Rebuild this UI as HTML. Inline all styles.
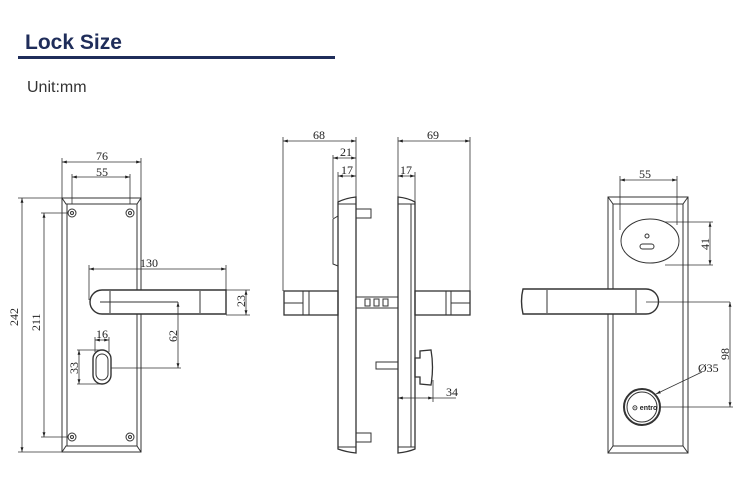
<!DOCTYPE html><html><head><style>body{margin:0;background:#fff}svg{display:block}</style></head><body>
<svg width="750" height="487" viewBox="0 0 750 487" xmlns="http://www.w3.org/2000/svg" font-family="Liberation Serif, serif">
<defs><marker id="a" viewBox="0 0 10 10" refX="10" refY="5" markerWidth="6" markerHeight="6" orient="auto-start-reverse"><path d="M0,2L10,5L0,8" fill="#222"/></marker></defs>
<text x="25" y="49" font-family="Liberation Sans, sans-serif" font-weight="bold" font-size="21" fill="#1f2d5a">Lock Size</text>
<rect x="18" y="56" width="317" height="3" fill="#1f2d5a"/>
<text x="27" y="92" font-family="Liberation Sans, sans-serif" font-size="16" fill="#333">Unit:mm</text>
<g stroke="#333" fill="none" stroke-width="1">
<rect x="62" y="198" width="79" height="254"/><line x1="67" y1="204" x2="67" y2="446"/><line x1="137" y1="204" x2="137" y2="446"/>
<path d="M62,198 L66,204 L137,204 L141,198 M62,452 L66,446 L137,446 L141,452"/>
<circle cx="72" cy="213" r="4"/><circle cx="130" cy="213" r="4"/><circle cx="72" cy="437" r="4"/><circle cx="130" cy="437" r="4"/>
<circle cx="72" cy="213" r="1.5"/><circle cx="130" cy="213" r="1.5"/><circle cx="72" cy="437" r="1.5"/><circle cx="130" cy="437" r="1.5"/>
<path d="M102,290 L226,290 L226,314 L102,314 A12,12 0 0 1 102,290 Z" fill="#fff" stroke-width="1.4"/>
<line x1="110" y1="291" x2="110" y2="313"/><line x1="200" y1="291" x2="200" y2="313"/><line x1="100" y1="302" x2="178" y2="302"/>
<rect x="93" y="350" width="18" height="34" rx="9" stroke-width="1.4"/><rect x="96" y="354" width="12" height="26" rx="6"/>
<g stroke-width="0.8">
<line x1="62" y1="198" x2="62" y2="158"/><line x1="141" y1="198" x2="141" y2="158"/><line x1="62" y1="162" x2="141" y2="162" marker-start="url(#a)" marker-end="url(#a)"/>
<line x1="72" y1="204" x2="72" y2="174"/><line x1="130" y1="204" x2="130" y2="174"/><line x1="72" y1="177" x2="130" y2="177" marker-start="url(#a)" marker-end="url(#a)"/>
<line x1="18" y1="198" x2="62" y2="198"/><line x1="18" y1="452" x2="62" y2="452"/><line x1="22" y1="198" x2="22" y2="452" marker-start="url(#a)" marker-end="url(#a)"/>
<line x1="41" y1="213" x2="68" y2="213"/><line x1="41" y1="437" x2="68" y2="437"/><line x1="44" y1="213" x2="44" y2="437" marker-start="url(#a)" marker-end="url(#a)"/>
<line x1="89" y1="265" x2="89" y2="300"/><line x1="226" y1="265" x2="226" y2="290"/><line x1="89" y1="269" x2="226" y2="269" marker-start="url(#a)" marker-end="url(#a)"/>
<line x1="226" y1="290" x2="250" y2="290"/><line x1="226" y1="315" x2="250" y2="315"/><line x1="246" y1="290" x2="246" y2="315" marker-start="url(#a)" marker-end="url(#a)"/>
<line x1="178" y1="302" x2="178" y2="368" marker-start="url(#a)" marker-end="url(#a)"/><line x1="111" y1="368" x2="181" y2="368"/>
<line x1="95" y1="337" x2="95" y2="352"/><line x1="109" y1="337" x2="109" y2="352"/><line x1="95" y1="340" x2="109" y2="340" marker-start="url(#a)" marker-end="url(#a)"/>
<line x1="77" y1="350" x2="100" y2="350"/><line x1="77" y1="384" x2="100" y2="384"/><line x1="79" y1="350" x2="79" y2="384" marker-start="url(#a)" marker-end="url(#a)"/>
</g>
<path d="M338,202 Q346,198 356,197 L356,453 Q346,452 338,449 Z" stroke-width="1.3"/><line x1="338" y1="204" x2="356" y2="204"/><line x1="338" y1="447" x2="356" y2="447"/>
<path d="M398,197 Q408,198 415,202 L415,449 Q408,452 398,453 Z" stroke-width="1.3"/><line x1="411" y1="204" x2="411" y2="447"/><line x1="398" y1="204" x2="415" y2="204"/><line x1="398" y1="447" x2="415" y2="447"/>
<path d="M333,219 L338,216 L338,266 L333,264 Z"/>
<rect x="356" y="209" width="15" height="9"/><rect x="356" y="433" width="15" height="9"/>
<rect x="284" y="291" width="54" height="24" stroke-width="1.3"/><line x1="303" y1="291" x2="303" y2="315"/><line x1="309" y1="291" x2="309" y2="315"/><line x1="284" y1="303" x2="303" y2="303"/>
<rect x="415" y="291" width="55" height="24" stroke-width="1.3"/><line x1="446" y1="291" x2="446" y2="315"/><line x1="451" y1="291" x2="451" y2="315"/><line x1="451" y1="303" x2="470" y2="303"/>
<rect x="356" y="297" width="42" height="11"/><rect x="365" y="299" width="5" height="7"/><rect x="374" y="299" width="5" height="7"/><rect x="383" y="299" width="5" height="7"/>
<rect x="376" y="362" width="22" height="7"/>
<path d="M415,358 L420,358 L420,351 L431,350 Q434,367 431,385 L420,384 L420,377 L415,377 Z" stroke-width="1.3"/>
<g stroke-width="0.8">
<line x1="283" y1="137" x2="283" y2="291"/><line x1="356" y1="137" x2="356" y2="198"/><line x1="283" y1="141" x2="356" y2="141" marker-start="url(#a)" marker-end="url(#a)"/>
<line x1="333" y1="155" x2="333" y2="218"/><line x1="333" y1="158" x2="356" y2="158" marker-start="url(#a)" marker-end="url(#a)"/>
<line x1="338" y1="172" x2="338" y2="203"/><line x1="338" y1="176" x2="356" y2="176" marker-start="url(#a)" marker-end="url(#a)"/>
<line x1="398" y1="137" x2="398" y2="198"/><line x1="470" y1="137" x2="470" y2="291"/><line x1="398" y1="141" x2="470" y2="141" marker-start="url(#a)" marker-end="url(#a)"/>
<line x1="415" y1="172" x2="415" y2="203"/><line x1="398" y1="176" x2="415" y2="176" marker-start="url(#a)" marker-end="url(#a)"/>
<line x1="433" y1="380" x2="433" y2="402"/><line x1="398" y1="398" x2="433" y2="398" marker-start="url(#a)" marker-end="url(#a)"/><line x1="433" y1="398" x2="456" y2="398"/>
</g>
<rect x="608" y="197" width="80" height="256"/><line x1="613" y1="204" x2="613" y2="446"/><line x1="683" y1="204" x2="683" y2="446"/>
<path d="M608,197 L613,204 L683,204 L688,197 M608,453 L613,446 L683,446 L688,453"/>
<ellipse cx="650" cy="241" rx="29" ry="22"/><circle cx="647" cy="236" r="2"/><rect x="640" y="244" width="14" height="5" rx="2.5"/>
<path d="M523,289 L646,289 A12,12 0 0 1 646,314 L523,314 Q520,301 523,289 Z" fill="#fff" stroke-width="1.4"/>
<line x1="547" y1="290" x2="547" y2="313"/><line x1="636" y1="290" x2="636" y2="313"/><line x1="646" y1="302" x2="730" y2="302" stroke-width="0.8"/>
<circle cx="642" cy="407" r="18" stroke-width="2"/><circle cx="642" cy="407" r="15"/>
<text x="632" y="410" font-size="7" font-family="Liberation Sans, sans-serif" stroke="none" fill="#222" font-weight="bold">⊙ entro</text>
<g stroke-width="0.8">
<line x1="620" y1="176" x2="620" y2="230"/><line x1="677" y1="176" x2="677" y2="225"/><line x1="620" y1="180" x2="677" y2="180" marker-start="url(#a)" marker-end="url(#a)"/>
<line x1="665" y1="222" x2="713" y2="222"/><line x1="665" y1="265" x2="713" y2="265"/><line x1="710" y1="222" x2="710" y2="265" marker-start="url(#a)" marker-end="url(#a)"/>
<line x1="660" y1="407" x2="733" y2="407"/><line x1="730" y1="302" x2="730" y2="407" marker-start="url(#a)" marker-end="url(#a)"/>
<line x1="702" y1="372" x2="656" y2="394" marker-end="url(#a)"/>
</g>
</g>
<g font-size="12" fill="#222">
<text x="96" y="160">76</text><text x="96" y="176">55</text><text x="140" y="267">130</text>
<text x="96" y="338">16</text>
<text transform="translate(18,326) rotate(-90)">242</text><text transform="translate(40,331) rotate(-90)">211</text>
<text transform="translate(245,307) rotate(-90)">23</text><text transform="translate(177,342) rotate(-90)">62</text><text transform="translate(78,374) rotate(-90)">33</text>
<text x="313" y="139">68</text><text x="340" y="156">21</text><text x="341" y="174">17</text>
<text x="427" y="139">69</text><text x="400" y="174">17</text><text x="446" y="396">34</text>
<text x="639" y="178">55</text><text transform="translate(709,250) rotate(-90)">41</text><text transform="translate(729,360) rotate(-90)">98</text>
<text x="698" y="372">Ø35</text>
</g>
</svg></body></html>
